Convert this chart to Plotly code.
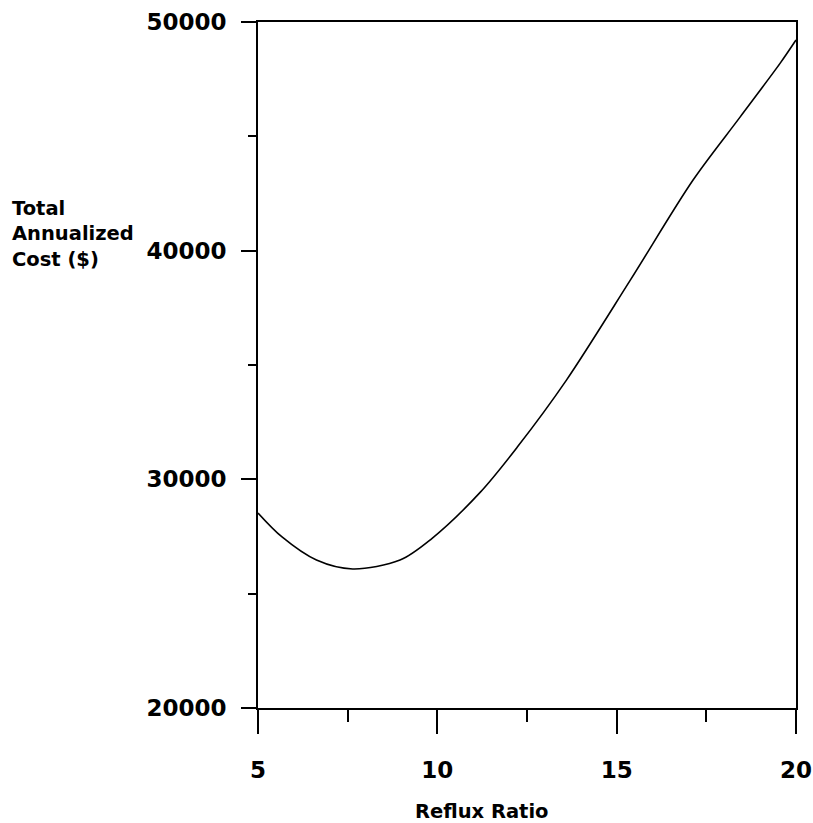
import plotly.graph_objects as go

reflux_ratio = [5.0, 5.67, 6.63, 7.64, 8.96, 9.83, 11.20, 12.23, 13.60, 15.38, 17.13, 18.44, 19.56, 20.0]
total_cost = [28530, 27480, 26470, 26080, 26470, 27390, 29440, 31410, 34340, 38710, 43090, 45840, 48200, 49210]

x_ticks = [5, 10, 15, 20]
y_ticks = [20000, 30000, 40000, 50000]

FONT = "DejaVu Sans"

fig = go.Figure()
fig.add_trace(go.Scatter(
    x=reflux_ratio, y=total_cost, mode="lines",
    line=dict(color="black", width=1.6, shape="spline", smoothing=0.9),
    showlegend=False, hoverinfo="skip",
))

fig.update_layout(
    width=813, height=823, autosize=False,
    margin=dict(l=258, r=17, t=22, b=115),
    paper_bgcolor="white", plot_bgcolor="white",
    font=dict(family=FONT, color="black"),
    xaxis=dict(
        range=[5, 20], tickvals=x_ticks, ticktext=[str(v) for v in x_ticks],
        showgrid=False, zeroline=False, automargin=False, ticklabeloverflow="allow",
        showline=True, linecolor="black", linewidth=1.8, mirror=True,
        ticks="outside", ticklen=24, tickwidth=1.5, tickcolor="black",
        ticklabelstandoff=16,
        tickfont=dict(family=FONT, size=23, color="black", weight="bold"),
        minor=dict(tickvals=[7.5, 12.5, 17.5], ticks="outside", ticklen=12,
                   tickwidth=1.5, tickcolor="black", showgrid=False),
    ),
    yaxis=dict(
        range=[20000, 50000], tickvals=y_ticks, ticktext=[str(v) for v in y_ticks],
        showgrid=False, zeroline=False, automargin=False, ticklabeloverflow="allow",
        showline=True, linecolor="black", linewidth=1.8, mirror=True,
        ticks="outside", ticklen=15, tickwidth=1.5, tickcolor="black",
        ticklabelstandoff=10,
        tickfont=dict(family=FONT, size=23, color="black", weight="bold"),
        minor=dict(tickvals=[25000, 35000, 45000], ticks="outside", ticklen=8,
                   tickwidth=1.5, tickcolor="black", showgrid=False),
    ),
    annotations=[
        dict(text="Total<br>Annualized<br>Cost ($)", xref="paper", yref="paper",
             x=(10 - 258) / 538, y=(708 - 234) / 686, xanchor="left", yanchor="middle",
             align="left", showarrow=False,
             font=dict(family=FONT, size=19.5, color="black", weight="bold")),
        dict(text="Reflux Ratio", xref="paper", yref="paper",
             x=(482 - 258) / 538, y=-(811 - 708) / 686, xanchor="center", yanchor="middle",
             showarrow=False,
             font=dict(family=FONT, size=19.5, color="black", weight="bold")),
    ],
)

fig.write_html(
    "out.html",
    config={"displayModeBar": False, "responsive": False},
    post_script="document.body.style.margin='0';document.body.style.overflow='hidden';",
)
